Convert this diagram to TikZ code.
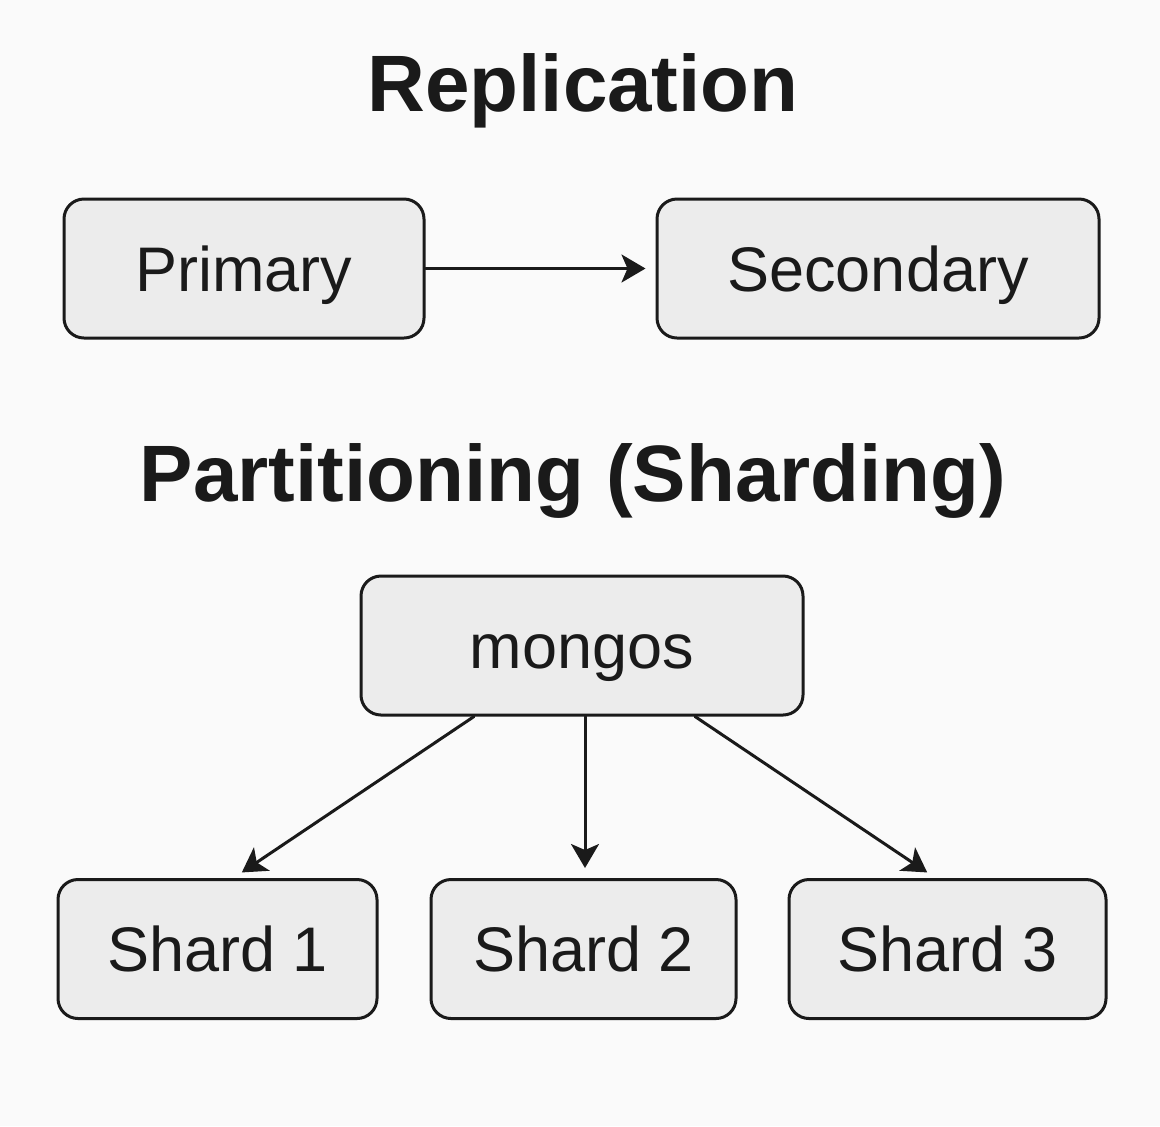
\documentclass[tikz,border=0pt]{standalone}
\usepackage{fontspec}
\setmainfont{Liberation Sans}
\usetikzlibrary{arrows.meta,calc}
\definecolor{bgcol}{HTML}{FAFAFA}
\definecolor{boxcol}{HTML}{ECECEC}
\definecolor{inkcol}{HTML}{1A1A1A}
\begin{document}
\begin{tikzpicture}[line cap=round,line join=round,x=.5pt,y=-.5pt,
		box/.style={draw=inkcol,fill=boxcol,line width=1.5pt,rounded corners=10pt,minimum height=69.5pt,inner sep=0pt,text height=22.7pt,text depth=0pt,font=\fontsize{31.5}{38}\selectfont,text=inkcol},
		heading/.style={font=\fontsize{40}{48}\selectfont\bfseries,text=inkcol,inner sep=0pt,text height=28.8pt,text depth=0pt},
		link/.style={draw=inkcol,line width=1.5pt,-{Stealth[length=12pt,width=14pt,inset=3pt]},shorten >=5pt}]
		\fill[bgcol] (0,0) rectangle (1160,1126);
		% replication
		\node[heading] (repl) at (583,82.5) {Replication};
		\node[box,minimum width=180pt] (prim) at (244,268.5) {Primary};
		\node[box,minimum width=221pt] (sec) at (878,268.5) {Secondary};
		\draw[link] (prim.east) -- (sec.west);
		% sharding
		\node[heading] (part) at (573,473) {Partitioning (Sharding)};
		\node[box,minimum width=221pt] (mongos) at (582,645.5) {mongos};
		\node[box,minimum width=159.5pt] (s1) at (217.5,949) {Shard 1};
		\node[box,minimum width=152.5pt] (s2) at (583.5,949) {Shard 2};
		\node[box,minimum width=158.5pt] (s3) at (947.5,949) {Shard 3};
		\draw[link] ([xshift=-54pt]mongos.south) -- ([xshift=8pt]s1.north);
		\draw[link] ([xshift=1.5pt]mongos.south) -- (s2.north -| {$(mongos.south)+(3,0)$});
		\draw[link] ([xshift=56.5pt]mongos.south) -- ([xshift=-6pt]s3.north);
	\end{tikzpicture}
\end{document}
